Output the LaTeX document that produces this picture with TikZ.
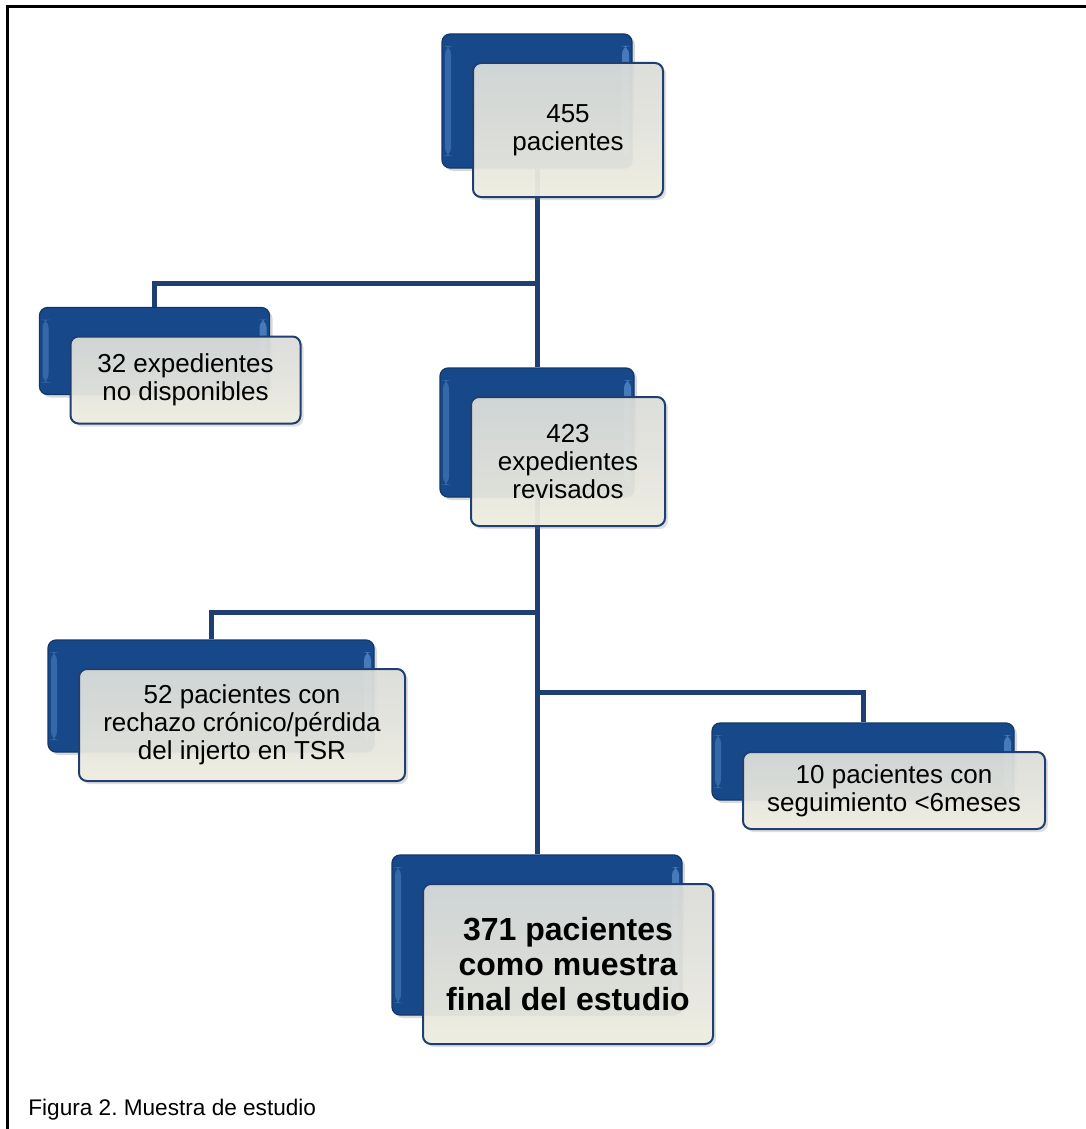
\documentclass[tikz,border=0pt]{standalone}
\usepackage{fontspec}
\setmainfont{Liberation Sans}
\frenchspacing
\usetikzlibrary{calc, shadows, backgrounds}

\definecolor{boxblue}{HTML}{17498A}
\definecolor{bevelblue}{HTML}{5387C8}
\definecolor{lineblue}{HTML}{1F3F73}
\definecolor{frontgray}{HTML}{DCDEDB}
\definecolor{frontcream}{HTML}{F0EFE2}

\tikzset{
	backbox/.style={rounded corners=4pt, inner sep=0pt, fill=boxblue, draw=boxblue!75!black, line width=0.6pt,
		drop shadow={opacity=0.3, shadow xshift=1.5pt, shadow yshift=-1.5pt},
		path picture={
			\fill[bevelblue, opacity=0.8] ([shift={(-5pt,-6pt)}]path picture bounding box.north east)
				rectangle ([shift={(-1.5pt,6pt)}]path picture bounding box.south east);
			\fill[bevelblue, opacity=0.5] ([shift={(1.5pt,-6pt)}]path picture bounding box.north west)
				rectangle ([shift={(4.5pt,6pt)}]path picture bounding box.south west);
		}},
	frontbox/.style={rounded corners=4pt, inner sep=0pt, top color=frontgray, bottom color=frontcream,
		fill opacity=0.93, text opacity=1, draw opacity=1, draw=lineblue, line width=1pt, align=center,
		font=\fontsize{13}{14}\selectfont, drop shadow={opacity=0.25, shadow xshift=1.5pt, shadow yshift=-1.5pt}},
	link/.style={draw=lineblue, line width=2.5pt},
}

\begin{document}
\begin{tikzpicture}[x=0.5pt, y=-0.5pt]
	\useasboundingbox (0,0) rectangle (1086,1129);

	% frame
	\draw[line width=1.5pt] (7,1129) -- (7,7) -- (1086,7);

	% back boxes
	\node[backbox, minimum width=95pt, minimum height=67pt] (b1) at (537,101) {};
	\node[backbox, minimum width=115pt, minimum height=43.5pt] (b2) at (154.5,351) {};
	\node[backbox, minimum width=97pt, minimum height=64.5pt] (b3) at (537,432.5) {};
	\node[backbox, minimum width=163pt, minimum height=56pt] (b4) at (211,696) {};
	\node[backbox, minimum width=151pt, minimum height=38.5pt] (b5) at (863,761.5) {};
	\node[backbox, minimum width=145pt, minimum height=80pt] (b6) at (537,935) {};

	% front boxes
	\node[frontbox, minimum width=95pt, minimum height=67pt] (f1) at (568,130) {455\\pacientes};
	\node[frontbox, minimum width=115pt, minimum height=43.5pt] (f2) at (185.5,380) {32 expedientes\\no disponibles};
	\node[frontbox, minimum width=97pt, minimum height=64.5pt] (f3) at (568,461.5) {423\\expedientes\\revisados};
	\node[frontbox, minimum width=163pt, minimum height=56pt] (f4) at (242,725) {52 pacientes con\\rechazo crónico/pérdida\\del injerto en TSR};
	\node[frontbox, minimum width=151pt, minimum height=38.5pt] (f5) at (894,790.5) {10 pacientes con\\seguimiento <6meses};
	\node[frontbox, minimum width=145pt, minimum height=80pt, font=\bfseries\fontsize{16}{17.5}\selectfont] (f6) at (568,964) {371 pacientes\\como muestra\\final del estudio};

	% branch points
	\coordinate (j1) at (537,283);
	\coordinate (j2) at (537,612);
	\coordinate (j3) at (537,692);

	% connectors
	\begin{scope}[on background layer]
		\draw[link] (b1.south) -- (b3.north);
		\draw[link] (b2.north) |- (j1);
		\draw[link] (b3.south) -- (b6.north);
		\draw[link] (b4.north) |- (j2);
		\draw[link] (b5.north) |- (j3);
	\end{scope}

	% caption
	\node[anchor=base west, font=\fontsize{11.3}{13}\selectfont, inner sep=0pt] (caption) at (28,1115) {Figura 2. Muestra de estudio};
\end{tikzpicture}
\end{document}
